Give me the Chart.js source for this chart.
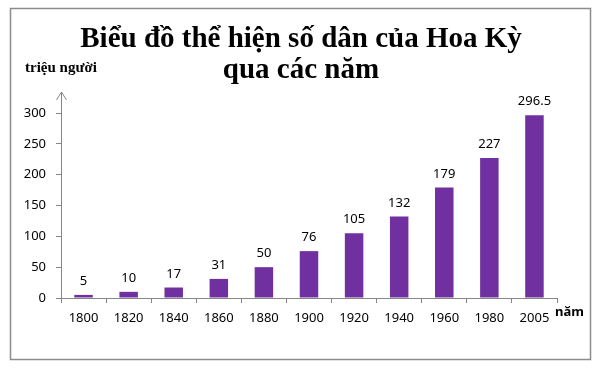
<!DOCTYPE html>
<html><head><meta charset="utf-8">
<script src="https://cdn.jsdelivr.net/npm/chart.js@4/dist/chart.umd.min.js"></script>
<style>html,body{margin:0;padding:0;background:#fff}#wrap{width:600px;height:368px}</style>
</head><body><div id="wrap"><canvas id="c" width="600" height="368"></canvas></div>
<script>
const years = ['1800','1820','1840','1860','1880','1900','1920','1940','1960','1980','2005'];
const population = [5, 10, 17, 31, 50, 76, 105, 132, 179, 227, 296.5];
const populationLabels = ['5','10','17','31','50','76','105','132','179','227','296.5'];
const titleLines = ['Biểu đồ thể hiện số dân của Hoa Kỳ', 'qua các năm'];
const yAxisTitle = 'triệu người';
const xAxisTitle = 'năm';

const extras = {
  id: 'extras',
  afterDraw(chart) {
    const ctx = chart.ctx, ca = chart.chartArea;
    ctx.save();
    ctx.strokeStyle = '#8c8c8c'; ctx.lineWidth = 1.5;
    ctx.strokeRect(10.5, 8.5, 580, 351);
    // title
    ctx.fillStyle = '#000'; ctx.font = 'bold 29px "Liberation Serif"';
    ctx.textAlign = 'center'; ctx.textBaseline = 'alphabetic';
    ctx.fillText(titleLines[0], 301, 47);
    ctx.fillText(titleLines[1], 301, 78);
    // arrow
    ctx.strokeStyle = '#868686'; ctx.lineWidth = 1;
    const ax = Math.round(ca.left) + 0.5;
    ctx.beginPath(); ctx.moveTo(ax, ca.top); ctx.lineTo(ax, 92); ctx.stroke();
    ctx.beginPath(); ctx.moveTo(ax - 5, 100); ctx.lineTo(ax, 92); ctx.lineTo(ax + 5, 100); ctx.stroke();
    // data labels
    const meta = chart.getDatasetMeta(0);
    ctx.font = '13px "Noto Sans"'; ctx.textBaseline = 'bottom';
    meta.data.forEach((bar, i) => ctx.fillText(populationLabels[i], bar.x, bar.y - 7));
    // axis titles
    ctx.font = 'bold 15px "Liberation Serif"'; ctx.textAlign = 'left'; ctx.textBaseline = 'alphabetic';
    ctx.fillText(yAxisTitle, 25, 72);
    ctx.font = 'bold 13px "Noto Sans"';
    ctx.fillText(xAxisTitle, 555, 316);
    ctx.restore();
  }
};

new Chart(document.getElementById('c'), {
  type: 'bar',
  data: { labels: years, datasets: [{ data: population, backgroundColor: '#7030A0', barPercentage: 0.41, categoryPercentage: 1 }] },
  options: {
    responsive: false, animation: false, devicePixelRatio: 1,
    layout: { padding: { top: 113, right: 43, left: 0, bottom: 0 } },
    plugins: { legend: { display: false }, tooltip: { enabled: false }, title: { display: false } },
    scales: {
      x: {
        afterFit(s) { s.height = 70; },
        grid: { offset: true, drawOnChartArea: false, drawTicks: true, tickLength: 5, color: '#868686' },
        border: { color: '#868686' },
        ticks: { color: '#000', font: { family: '"Noto Sans"', size: 13 }, padding: 7, maxRotation: 0 }
      },
      y: {
        min: 0, max: 300,
        afterFit(s) { s.width = 61; },
        grid: { drawOnChartArea: false, drawTicks: true, tickLength: 5, color: '#868686' },
        border: { color: '#868686' },
        ticks: { stepSize: 50, color: '#000', font: { family: '"Noto Sans"', size: 13 }, padding: 10 }
      }
    }
  },
  plugins: [extras]
});
</script></body></html>
